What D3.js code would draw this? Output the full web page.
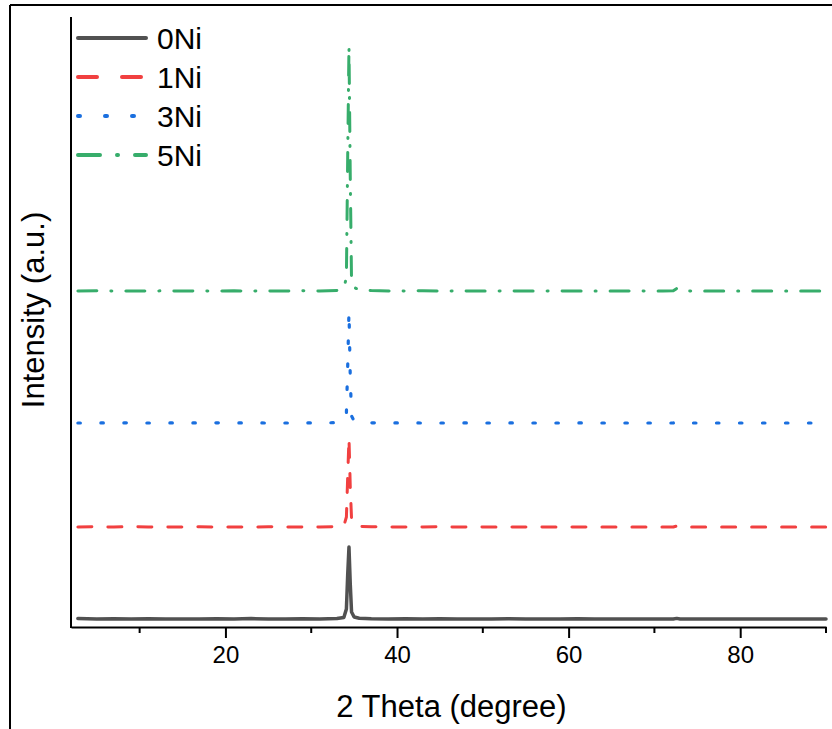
<!DOCTYPE html>
<html>
<head>
<meta charset="utf-8">
<script src="https://cdn.jsdelivr.net/npm/d3@7"></script>
<style>
  body { margin: 0; background: #fff; }
  svg { display: block; font-family: Arial, "Liberation Sans", sans-serif; }
</style>
</head>
<body>
<svg width="832" height="729"></svg>
<script>
// 2 theta positions (degree), shared by all patterns
const twoTheta = [2.8, 5, 7, 9, 11, 13, 15, 17, 19, 21, 23, 25, 27, 29, 31, 33,
    33.8, 34.1, 34.25, 34.4, 34.55, 34.7, 35.0, 35.6,
    37, 39, 41, 43, 45, 47, 49, 51, 53, 55, 57, 59, 61, 63, 65, 67, 69, 71,
    72.2, 72.6, 73.0, 75, 77, 79, 81, 83, 85, 87, 90]

// stacked intensities (a.u.)
const ni0 = [85, 80, 82, 80, 83, 80, 81, 80, 82, 80, 84, 81, 80, 82, 80, 84,
    95, 180, 520, 800, 430, 150, 100, 88,
    82, 80, 83, 80, 82, 80, 81, 80, 82, 80, 81, 80, 82, 80, 80, 81, 80, 80,
    80, 86, 80, 80, 80, 80, 80, 80, 80, 80, 80]
const ni1 = [1000, 1002, 1000, 1003, 1000, 1001, 1000, 1002, 1000, 1001, 1000, 1002, 1000, 1001, 1000, 1004,
    1010, 1100, 1500, 1890, 1400, 1080, 1020, 1006,
    1002, 1000, 1001, 1000, 1002, 1000, 1001, 1000, 1000, 1001, 1000, 1000, 1001, 1000, 1000, 1000, 1000, 1000,
    1000, 1010, 1000, 1000, 1000, 1000, 1000, 1000, 1000, 1000, 1000]
const ni3 = [2040, 2041, 2040, 2042, 2040, 2040, 2041, 2040, 2042, 2040, 2041, 2040, 2040, 2042, 2040, 2044,
    2050, 2140, 2600, 3160, 2500, 2110, 2060, 2046,
    2042, 2040, 2041, 2040, 2040, 2041, 2040, 2040, 2041, 2040, 2040, 2040, 2041, 2040, 2040, 2040, 2040, 2040,
    2040, 2052, 2040, 2040, 2040, 2040, 2040, 2040, 2040, 2040, 2040]
const ni5 = [3360, 3362, 3360, 3361, 3360, 3362, 3360, 3361, 3360, 3362, 3360, 3361, 3360, 3362, 3360, 3366,
    3380, 3500, 4700, 5810, 4500, 3450, 3395, 3372,
    3364, 3361, 3360, 3362, 3360, 3361, 3360, 3360, 3361, 3360, 3360, 3361, 3360, 3360, 3360, 3361, 3360, 3360,
    3362, 3385, 3362, 3360, 3360, 3360, 3360, 3360, 3360, 3360, 3360]

const names = ["0Ni", "1Ni", "3Ni", "5Ni"]
const colors = ["#515151", "#F14040", "#1A6FDF", "#37AD6B"]
const widths = [3.5, 3, 3.2, 3]
const dashes = [null, "14,16", "2.5,20.5", "19,14,1,14"]
const legendDashes = [null, "19,25", "2,25", "22,17,1,17"]

const xTicks = [20, 40, 60, 80]
const xMinorTicks = [10, 30, 50, 70, 90]

const svg = d3.select("svg")

const plotLeft = 71, plotRight = 826, plotTop = 17, plotBottom = 627

const x = d3.scaleLinear().domain([2, 90]).range([plotLeft, plotRight])
const y = d3.scaleLinear().domain([0, 6100]).range([plotBottom, plotTop])

// outer figure frame (only top and left show)
svg.append("line").attr("x1", 10).attr("x2", 832).attr("y1", 5).attr("y2", 5)
    .attr("stroke", "#000").attr("stroke-width", 2)
svg.append("line").attr("x1", 10).attr("x2", 10).attr("y1", 5).attr("y2", 729)
    .attr("stroke", "#000").attr("stroke-width", 2)

const series = [ni0, ni1, ni3, ni5]

const line = d3.line()
    .x((d, i) => x(twoTheta[i]))
    .y(d => y(d))

const plot = svg.append("g")
series.forEach((s, k) => {
    plot.append("path")
        .datum(s)
        .attr("d", line)
        .attr("fill", "none")
        .attr("stroke", colors[k])
        .attr("stroke-width", widths[k])
        .attr("stroke-linecap", "round")
        .attr("stroke-linejoin", "round")
        .attr("stroke-dasharray", dashes[k])
})

// x axis
const xAxis = svg.append("g")
    .attr("transform", `translate(0,${plotBottom})`)
    .call(d3.axisBottom(x).tickValues(xTicks).tickSize(11).tickSizeOuter(0).tickPadding(8))
xAxis.select(".domain").attr("stroke-width", 2)
xAxis.selectAll(".tick line").attr("stroke-width", 2)
xAxis.selectAll(".tick text").attr("font-size", 24).attr("fill", "#000")
    .attr("font-family", "Arial, 'Liberation Sans', sans-serif")

svg.append("g")
    .attr("transform", `translate(0,${plotBottom})`)
    .selectAll("line")
    .data(xMinorTicks)
    .enter()
    .append("line")
    .attr("x1", d => x(d)).attr("x2", d => x(d))
    .attr("y1", 0).attr("y2", 6)
    .attr("stroke", "#000").attr("stroke-width", 2)

// y axis: plain line, no ticks
svg.append("line")
    .attr("x1", plotLeft).attr("x2", plotLeft).attr("y1", plotTop).attr("y2", plotBottom + 1)
    .attr("stroke", "#000").attr("stroke-width", 2)

svg.append("text")
    .attr("x", (plotLeft + plotRight) / 2 + 3)
    .attr("y", 717)
    .attr("text-anchor", "middle")
    .attr("font-size", 31)
    .text("2 Theta (degree)")

svg.append("text")
    .attr("transform", "translate(44,310) rotate(-90)")
    .attr("text-anchor", "middle")
    .attr("font-size", 31)
    .text("Intensity (a.u.)")

// legend
const legend = svg.append("g")
names.forEach((n, k) => {
    const ly = 38 + k * 39
    legend.append("line")
        .attr("x1", 78).attr("x2", 146).attr("y1", ly).attr("y2", ly)
        .attr("stroke", colors[k])
        .attr("stroke-width", 4)
        .attr("stroke-linecap", "round")
        .attr("stroke-dasharray", legendDashes[k])
    legend.append("text")
        .attr("x", 157)
        .attr("y", ly + 11)
        .attr("font-size", 30)
        .text(n)
})
</script>
</body>
</html>
